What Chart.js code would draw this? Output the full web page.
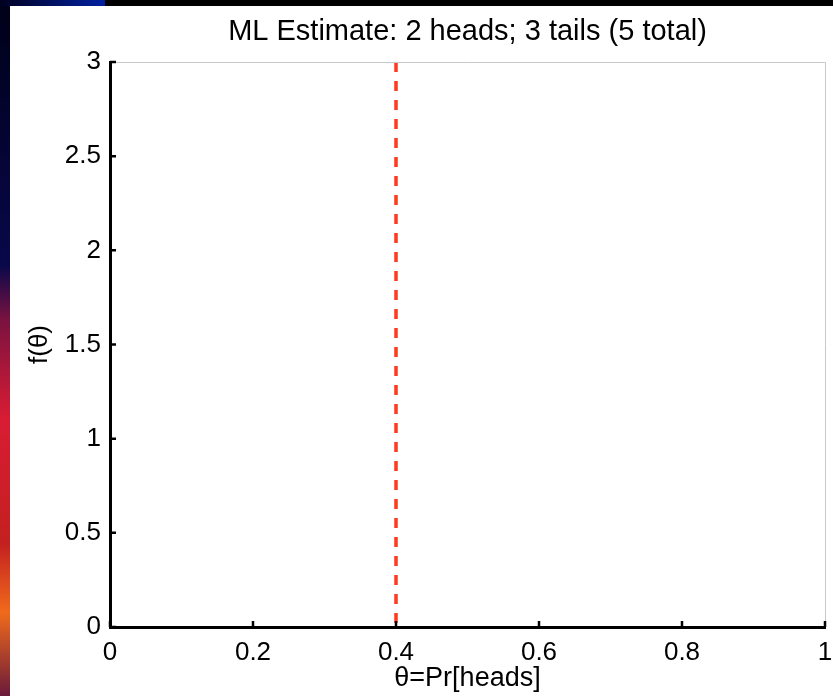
<!DOCTYPE html>
<html>
<head>
<meta charset="utf-8">
<script src="https://cdn.jsdelivr.net/npm/chart.js@4"></script>
<style>
  html, body { margin: 0; padding: 0; background: #000; }
  #wrap { width: 833px; height: 696px; position: relative; }
</style>
</head>
<body>
<div id="wrap"><canvas id="myChart" width="833" height="696"></canvas></div>
<script>
(() => {
  'use strict'

// data
var xTicks = [0, 0.2, 0.4, 0.6, 0.8, 1];
var yTicks = [0, 0.5, 1, 1.5, 2, 2.5, 3];
var estimateX = [0.4, 0.4]; // ML estimate: 2 heads / 5 tosses
var estimateY = [3, 0];

var font = "'Liberation Sans', Arial, Helvetica, sans-serif";

// slide background + white figure
var backdrop = {
  id: 'backdrop',
  beforeDraw: function (chart) {
    var c = chart.ctx, w = chart.width, h = chart.height;
    c.save();
    c.fillStyle = '#000';
    c.fillRect(0, 0, w, h);
    var g = c.createLinearGradient(0, 0, 0, h);
    g.addColorStop(0, '#000018');
    g.addColorStop(0.38, '#08084a');
    g.addColorStop(0.46, '#7a1240');
    g.addColorStop(0.6, '#d81c34');
    g.addColorStop(0.78, '#c42020');
    g.addColorStop(0.88, '#f06a1c');
    g.addColorStop(1, '#6a1a3a');
    c.fillStyle = g;
    c.fillRect(0, 0, 10, h);
    var t = c.createLinearGradient(0, 0, 105, 0);
    t.addColorStop(0, '#000020');
    t.addColorStop(1, '#0020a0');
    c.fillStyle = t;
    c.fillRect(0, 0, 105, 6);
    c.fillStyle = '#fff';
    c.fillRect(10, 6, w - 10, h - 6);
    c.restore();
  },
  afterDraw: function (chart) {
    var c = chart.ctx, a = chart.chartArea;
    var xs = chart.scales.x, ys = chart.scales.y;
    c.save();
    // thin box on top and right
    c.strokeStyle = '#c8c8c8';
    c.lineWidth = 1;
    c.beginPath();
    c.moveTo(a.left, a.top + 0.5);
    c.lineTo(a.right + 0.5, a.top + 0.5);
    c.lineTo(a.right + 0.5, a.bottom);
    c.stroke();
    // inward ticks
    c.strokeStyle = '#000';
    c.lineWidth = 2.5;
    c.beginPath();
    yTicks.forEach(function (v) {
      var py = ys.getPixelForValue(v);
      c.moveTo(a.left, py);
      c.lineTo(a.left + 6, py);
    });
    xTicks.forEach(function (v) {
      var px = xs.getPixelForValue(v);
      c.moveTo(px, a.bottom);
      c.lineTo(px, a.bottom - 6);
    });
    c.stroke();
    c.restore();
  }
};

var plain = function (v) { return String(v); };

var ctx = document.getElementById('myChart').getContext('2d');

var myChart = new Chart(ctx, {
  type: 'line',
  data: {
    datasets: [{
      data: estimateX.map(function (x, i) { return { x: x, y: estimateY[i] }; }),
      borderColor: '#ff3a1e',
      borderWidth: 3.5,
      borderDash: [10, 9],
      pointRadius: 0,
      fill: false
    }]
  },
  options: {
    responsive: false,
    animation: false,
    layout: { padding: { top: 6, left: 10, right: 0, bottom: 0 } },
    plugins: {
      legend: { display: false },
      tooltip: { enabled: false },
      title: {
        display: true,
        text: 'ML Estimate: 2 heads; 3 tails (5 total)',
        fullSize: false,
        color: '#000',
        font: { family: font, size: 29, weight: 'normal' },
        padding: { top: 8.5, bottom: 12.7 }
      }
    },
    scales: {
      x: {
        type: 'linear',
        min: 0,
        max: 1,
        afterBuildTicks: function (s) { s.ticks = xTicks.map(function (v) { return { value: v }; }); },
        afterFit: function (s) { s.height = 69; s.paddingRight = 8; },
        grid: { display: false, drawTicks: false },
        border: { display: true, color: '#000', width: 3 },
        ticks: { color: '#000', padding: 10, maxRotation: 0, callback: plain, font: { family: font, size: 26 } },
        title: {
          display: true,
          text: 'θ=Pr[heads]',
          color: '#000',
          font: { family: font, size: 27 },
          padding: { top: 0, bottom: 1 }
        }
      },
      y: {
        type: 'linear',
        min: 0,
        max: 3,
        afterBuildTicks: function (s) { s.ticks = yTicks.map(function (v) { return { value: v }; }); },
        afterFit: function (s) { s.width = 100; },
        grid: { display: false, drawTicks: false },
        border: { display: true, color: '#000', width: 3 },
        ticks: { color: '#000', padding: 9, callback: plain, font: { family: font, size: 26 } },
        title: {
          display: true,
          text: 'f(θ)',
          color: '#000',
          font: { family: font, size: 26 },
          padding: { top: 14.4, bottom: 0 }
        }
      }
    }
  },
  plugins: [backdrop]
})
})()
</script>
</body>
</html>
